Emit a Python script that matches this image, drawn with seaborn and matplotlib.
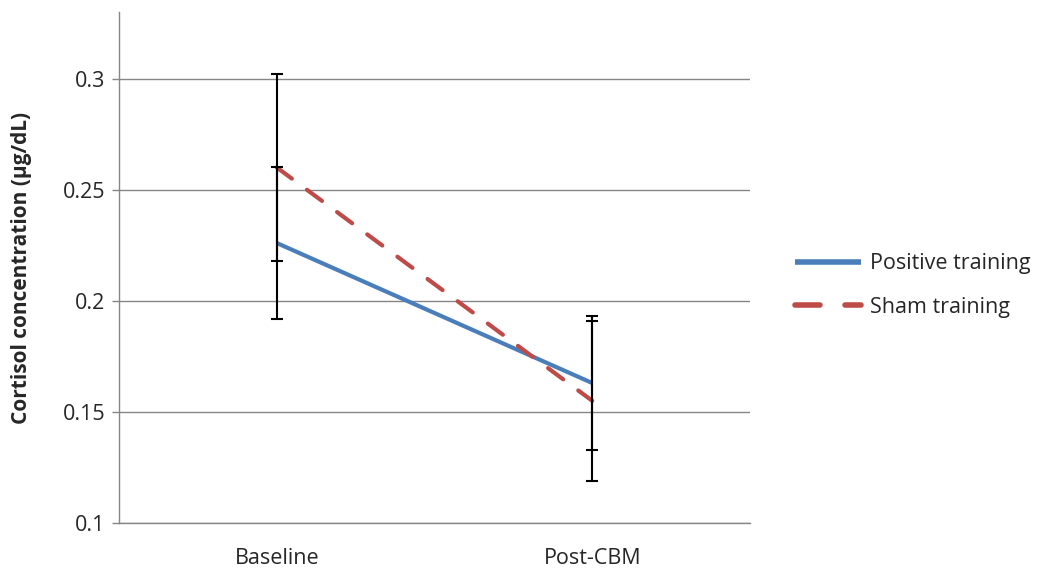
import numpy as np
import pandas as pd
import matplotlib
matplotlib.use("Agg")
import matplotlib.pyplot as plt
import seaborn as sns

# values
timepoints = ["Baseline", "Post-CBM"]
positive_mean = [0.226, 0.163]
positive_err = [0.034, 0.030]
sham_mean = [0.260, 0.155]
sham_err = [0.042, 0.036]

df = pd.DataFrame({
    "pos": [0, 1, 0, 1],
    "cortisol": positive_mean + sham_mean,
    "group": ["Positive training"] * 2 + ["Sham training"] * 2,
})

sns.set_style("white")
plt.rcParams["font.family"] = ["Open Sans", "DejaVu Sans"]

fig = plt.figure(figsize=(10.48, 5.68), dpi=100)
ax = fig.add_axes([0.1136, 0.0792, 0.602, 0.8998])

palette = {"Positive training": "#4A7EBB", "Sham training": "#BE4B48"}
sns.lineplot(data=df, x="pos", y="cortisol", hue="group", style="group",
             palette=palette, dashes={"Positive training": "", "Sham training": (4.5, 4.5)},
             linewidth=3, ax=ax, zorder=3, legend=True)
for line in ax.get_lines():
    line.set_dash_capstyle("round")
    line.set_solid_capstyle("butt")

# error bars
x = np.arange(len(timepoints))
ax.errorbar(x, sham_mean, yerr=sham_err, fmt="none", ecolor="black",
            elinewidth=1.5, capsize=4.5, capthick=1.5, zorder=4)
ax.errorbar(x, positive_mean, yerr=positive_err, fmt="none", ecolor="black",
            elinewidth=1.5, capsize=4.5, capthick=1.5, zorder=4)

ax.set_xlim(-0.5, 1.5)
ax.set_ylim(0.1, 0.33)
ax.set_yticks([0.1, 0.15, 0.2, 0.25, 0.3])
ax.set_yticklabels(["0.1", "0.15", "0.2", "0.25", "0.3"])
ax.set_xticks(x)
ax.set_xticklabels(timepoints)
ax.tick_params(axis="x", length=0, labelsize=15.5, pad=18)
ax.tick_params(axis="y", length=5, width=1, color="#868686", labelsize=15.5, pad=5, left=True)
ax.yaxis.grid(True, color="#868686", linewidth=1)
ax.set_axisbelow(True)

for s in ["top", "right"]:
    ax.spines[s].set_visible(False)
for s in ["left", "bottom"]:
    ax.spines[s].set_color("#868686")
    ax.spines[s].set_linewidth(1)

ax.set_xlabel("")
ax.set_ylabel("Cortisol concentration (\u00b5g/dL)", fontsize=15, fontweight="bold", labelpad=22)

handles, labels = ax.get_legend_handles_labels()
leg = ax.legend(handles, labels, loc="center left", bbox_to_anchor=(1.04, 0.465),
                frameon=False, fontsize=15.5, handlelength=3.1, labelspacing=1.05,
                handletextpad=0.4)
for h in leg.get_lines():
    h.set_linewidth(4)

fig.savefig("out.png", dpi=100)
